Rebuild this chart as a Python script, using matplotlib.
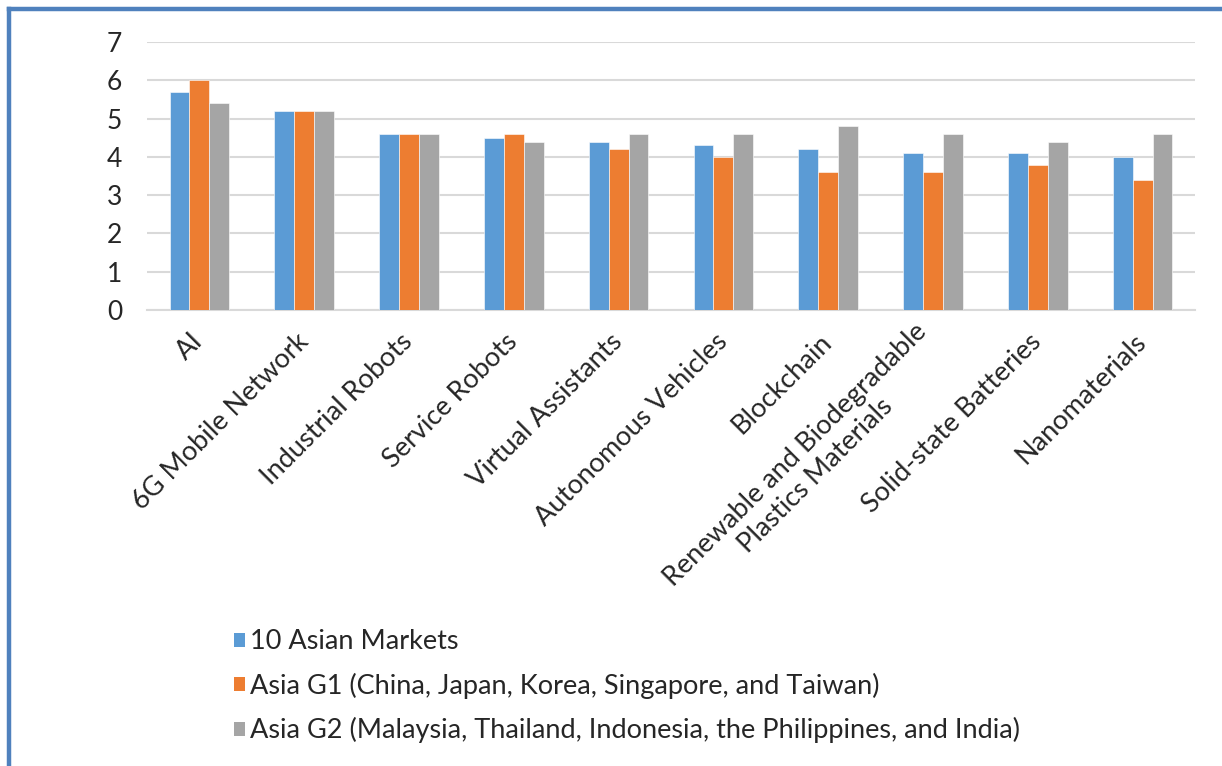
import matplotlib
matplotlib.use('Agg')
import matplotlib.pyplot as plt
from matplotlib.patches import Patch
from matplotlib.lines import Line2D
import numpy as np

categories = ['AI', '6G Mobile Network', 'Industrial Robots', 'Service Robots',
              'Virtual Assistants', 'Autonomous Vehicles', 'Blockchain',
              'Renewable and Biodegradable\nPlastics Materials',
              'Solid-state Batteries', 'Nanomaterials']
asian10 = [5.7, 5.2, 4.6, 4.5, 4.4, 4.3, 4.2, 4.1, 4.1, 4.0]
asia_g1 = [6.0, 5.2, 4.6, 4.6, 4.2, 4.0, 3.6, 3.6, 3.8, 3.4]
asia_g2 = [5.4, 5.2, 4.6, 4.4, 4.6, 4.6, 4.8, 4.6, 4.4, 4.6]
series_names = ['10 Asian Markets',
                'Asia G1 (China, Japan, Korea, Singapore, and Taiwan)',
                'Asia G2 (Malaysia, Thailand, Indonesia, the Philippines, and India)']
colors = ['#5B9BD5', '#ED7D31', '#A5A5A5']

plt.rcParams['font.family'] = ['Lato', 'DejaVu Sans']

W, H = 1222, 766
fig = plt.figure(figsize=(W / 100, H / 100), dpi=100)
ax = fig.add_axes([147 / W, 1 - 310 / H, (1195 - 147) / W, (310 - 42) / H])

x = np.arange(len(categories))
bw = 0.19
for i, (vals, c) in enumerate(zip([asian10, asia_g1, asia_g2], colors)):
    ax.bar(x + (i - 1) * bw, vals, width=bw, color=c, edgecolor='#ffffff',
           linewidth=0.4, zorder=3)

ax.set_xlim(-0.5, len(categories) - 0.5)
ax.set_ylim(0, 7)
ax.set_yticks(range(8))
ax.yaxis.grid(True, color='#D9D9D9', linewidth=1.5, zorder=0)
ax.set_axisbelow(True)
for s in ['top', 'right', 'left']:
    ax.spines[s].set_visible(False)
ax.spines['bottom'].set_color('#D9D9D9')
ax.spines['bottom'].set_linewidth(1.5)
ax.tick_params(axis='both', length=0)
ax.tick_params(axis='y', labelsize=19, pad=18, colors='#262626')

ax.set_xticks(x)
ax.set_xticklabels(categories, rotation=45, ha='right', va='center',
                   rotation_mode='anchor', fontsize=19.5, color='#262626',
                   multialignment='center')
ax.tick_params(axis='x', pad=20)

handles = [Patch(facecolor=c, edgecolor='none') for c in colors]
fig.legend(handles, series_names, loc='upper left',
           bbox_to_anchor=(210 / W, 1 - 605 / H), frameon=False,
           fontsize=19.5, handlelength=0.4, handleheight=0.4,
           handletextpad=0.18, labelspacing=0.68, labelcolor='#262626')

# blue frame (only top and left edge visible)
fig.add_artist(Line2D([9 / W, 9 / W], [0, 1 - 9 / H], color='#4F81BD',
                      linewidth=3.2, transform=fig.transFigure))
fig.add_artist(Line2D([9 / W, 1], [1 - 9 / H, 1 - 9 / H], color='#4F81BD',
                      linewidth=3.2, transform=fig.transFigure))

plt.savefig('out.png', dpi=100)
plt.close()
